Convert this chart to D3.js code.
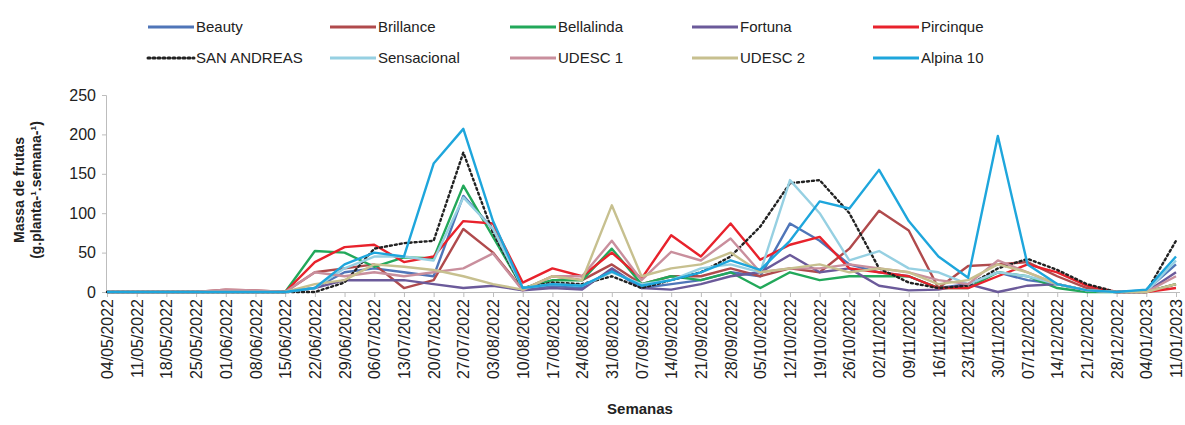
<!DOCTYPE html>
<meta charset="utf-8">
<title>Massa de frutas por semana</title>
<style>
body { margin: 0; background: #fff; }
text { font-family: "Liberation Sans", Arial, sans-serif; fill: #222; }
.line { fill: none; stroke-width: 2.4px; stroke-linejoin: round; }
.axis path, .axis line { stroke: #bdbdbd; }
</style>
<script src="https://d3js.org/d3.v7.min.js"></script>
<body>
<script>
var width = 1185;
var height = 425;

// weeks (category axis)
var semanas = ["04/05/2022","11/05/2022","18/05/2022","25/05/2022","01/06/2022","08/06/2022","15/06/2022",
  "22/06/2022","29/06/2022","06/07/2022","13/07/2022","20/07/2022","27/07/2022","03/08/2022","10/08/2022",
  "17/08/2022","24/08/2022","31/08/2022","07/09/2022","14/09/2022","21/09/2022","28/09/2022","05/10/2022",
  "12/10/2022","19/10/2022","26/10/2022","02/11/2022","09/11/2022","16/11/2022","23/11/2022","30/11/2022",
  "07/12/2022","14/12/2022","21/12/2022","28/12/2022","04/01/2023","11/01/2023"];

var yTicks = [0, 50, 100, 150, 200, 250];

// values (g.planta-1.semana-1)
var beauty      = [0,0,0,0,0,0,0, 5,25,30,25,20,122,80, 3,8,5,28,5,10,15,25,20,87,65,35,25,20,5,10,25,15,10,2,0,2,35];
var brillance   = [0,0,0,0,3,2,0, 25,30,35,5,15,80,50, 3,20,15,35,10,20,20,30,20,30,25,55,103,78,5,33,35,38,20,5,0,0,10];
var bellalinda  = [0,0,0,0,0,0,0, 52,50,32,44,43,135,70, 5,15,15,55,10,20,15,25,5,25,15,20,20,20,5,5,25,20,5,0,0,0,10];
var fortuna     = [0,0,0,0,0,0,0, 5,15,15,15,10,5,8, 2,5,3,30,5,3,10,20,25,47,25,30,8,2,3,10,0,8,10,2,0,0,25];
var pircinque   = [0,0,0,0,0,0,0, 38,57,60,38,45,90,87, 12,30,20,50,17,72,45,87,41,60,70,30,25,20,5,5,20,35,25,8,0,0,5];
var sanAndreas  = [0,0,0,0,0,0,0, 0,12,55,62,65,177,75, 5,12,10,20,5,15,25,45,83,138,142,100,30,12,5,8,30,42,28,10,0,0,65];
var sensacional = [0,0,0,0,0,0,0, 5,30,45,45,40,120,80, 5,10,8,25,10,15,30,35,25,142,100,40,52,30,25,10,25,20,10,2,0,0,40];
var udesc1      = [0,0,0,0,3,2,0, 25,20,25,20,25,30,49, 2,20,20,65,15,51,40,68,25,30,30,35,30,25,15,10,40,25,10,2,0,0,20];
var udesc2      = [0,0,0,0,0,0,0, 10,15,35,32,28,20,10, 3,20,15,110,20,30,35,50,25,30,35,25,30,25,10,15,35,25,10,2,0,0,10];
var alpina10    = [0,0,0,0,0,0,0, 5,35,50,45,163,207,90, 5,10,8,26,8,15,25,40,28,65,115,106,155,90,45,18,198,35,10,2,0,3,45];

var nomes  = ["Beauty","Brillance","Bellalinda","Fortuna","Pircinque","SAN ANDREAS","Sensacional","UDESC 1","UDESC 2","Alpina 10"];
var cores  = ["#4f75b8","#b04a4c","#22a85a","#6b5a9a","#e8222c","#222222","#96d0e2","#c98f9d","#c7c08f","#1ea6dc"];
var series = [beauty, brillance, bellalinda, fortuna, pircinque, sanAndreas, sensacional, udesc1, udesc2, alpina10];

var svg = d3.select("body").append("svg")
    .attr("width", width)
    .attr("height", height);

var x = d3.scalePoint()
    .domain(semanas)
    .range([107, 1176]);

var y = d3.scaleLinear()
    .domain([0, 250])
    .range([292, 95]);

// axes
var yAxis = svg.append("g")
    .attr("class", "axis")
    .attr("transform", "translate(106,0)")
    .call(d3.axisLeft(y).tickValues(yTicks).tickSize(4).tickPadding(6));
yAxis.selectAll("text").style("font-size", "16px");

var xAxis = svg.append("g")
    .attr("class", "axis")
    .attr("transform", "translate(0,292)")
    .call(d3.axisBottom(x).tickSize(5).tickSizeOuter(0));
xAxis.select(".domain").attr("d", "M106,0.5H1180");
xAxis.selectAll("text")
    .style("font-size", "16px")
    .attr("text-anchor", "end")
    .attr("transform", "rotate(-90)")
    .attr("x", -7)
    .attr("y", 0)
    .attr("dy", "0.35em");

// lines
var line = d3.line()
    .x(function(d, i) { return x(semanas[i]); })
    .y(function(d) { return y(d); });

series.forEach(function(s, k) {
  svg.append("path")
      .datum(s)
      .attr("class", "line")
      .attr("stroke", cores[k])
      .attr("stroke-dasharray", nomes[k] == "SAN ANDREAS" ? "2,3" : null)
      .attr("stroke-linecap", nomes[k] == "SAN ANDREAS" ? "round" : "butt")
      .attr("d", line);
});

// axis titles
svg.append("text")
    .attr("transform", "translate(24,190) rotate(-90)")
    .attr("text-anchor", "middle")
    .style("font-size", "14px")
    .style("font-weight", "bold")
    .text("Massa de frutas");
svg.append("text")
    .attr("transform", "translate(41,190) rotate(-90)")
    .attr("text-anchor", "middle")
    .style("font-size", "14px")
    .style("font-weight", "bold")
    .text("(g.planta-¹.semana-¹)");
svg.append("text")
    .attr("x", 640)
    .attr("y", 414)
    .attr("text-anchor", "middle")
    .style("font-size", "15px")
    .style("font-weight", "bold")
    .text("Semanas");

// legend
var legX = [148, 330, 510, 692, 873];
var leg = svg.append("g");
nomes.forEach(function(n, k) {
  var lx = legX[k % 5], ly = k < 5 ? 27 : 58;
  leg.append("line")
      .attr("x1", lx).attr("x2", lx + 46)
      .attr("y1", ly).attr("y2", ly)
      .attr("stroke", cores[k])
      .attr("stroke-width", 3)
      .attr("stroke-dasharray", n == "SAN ANDREAS" ? "2,3" : null)
      .attr("stroke-linecap", n == "SAN ANDREAS" ? "round" : "butt");
  leg.append("text")
      .attr("x", lx + 48)
      .attr("y", ly)
      .attr("dy", "0.35em")
      .style("font-size", "15px")
      .text(n);
});
</script>
</body>
